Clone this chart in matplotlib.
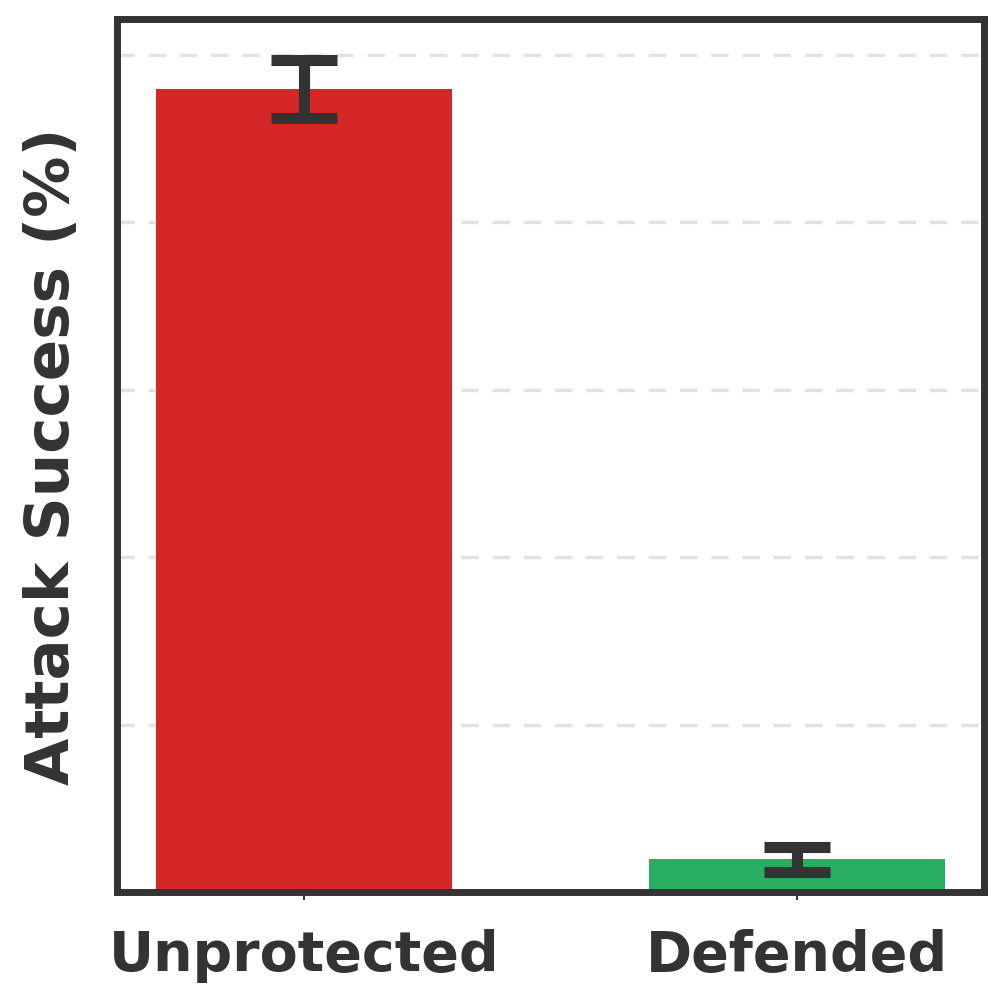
import numpy as np
import matplotlib
matplotlib.use("Agg")
import matplotlib.pyplot as plt

labels = ["Unprotected", "Defended"]
values = [95.9, 3.9]
errors = [3.5, 1.5]
colors = ["#d62728", "#27ae60"]
grid_ticks = [20, 40, 60, 80, 100]

dark = "#333333"

fig = plt.figure(figsize=(10.03, 10.03), dpi=100)
ax = fig.add_axes([117 / 1003, 1 - 893 / 1003, (984.5 - 117) / 1003, (893 - 19.5) / 1003])

x = np.arange(len(labels))
ax.bar(x, values, width=0.6, color=colors, zorder=2)
ax.errorbar(x, values, yerr=errors, fmt="none", ecolor=dark,
            elinewidth=8, capsize=24, capthick=8, zorder=3)

ax.set_xlim(-0.38, 1.38)
ax.set_ylim(0, 104.3)
ax.set_yticks(grid_ticks)
ax.set_yticklabels([])
ax.tick_params(axis="y", length=0)
ax.tick_params(axis="x", length=6, width=1.5, color=dark, pad=20)
ax.set_xticks(x)
ax.set_xticklabels(labels, fontsize=40, fontweight="bold", color=dark)
ax.yaxis.grid(True, linestyle="--", color="#e2e2e2", linewidth=2.5, dashes=(5, 4), zorder=0)

ax.set_ylabel("Attack Success (%)", fontsize=44, fontweight="bold", color=dark, labelpad=22)

for s in ax.spines.values():
    s.set_linewidth(5)
    s.set_color(dark)

fig.savefig("out.png", dpi=100)
